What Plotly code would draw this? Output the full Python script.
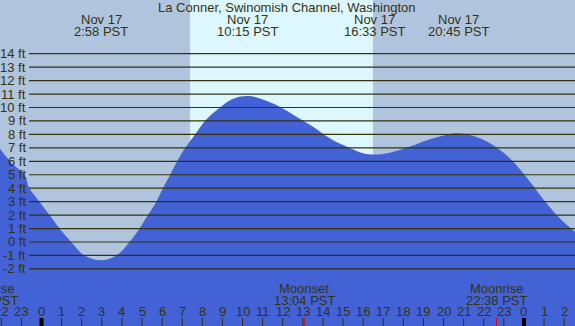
import plotly.graph_objects as go

TITLE = "La Conner, Swinomish Channel, Washington"

# tide curve (hour of Nov 17, feet)
tide_hours = [-2.1, -1.5, -0.85, -0.6, -0.1, 0.4, 0.9, 1.48, 2.14, 2.95, 3.72, 4.38,
              4.88, 5.29, 5.71, 6.04, 6.4, 6.75, 7.15, 7.64, 8.13, 8.88, 9.45, 10.25, 11.0,
              11.85, 12.68, 13.51, 14.34, 15.17, 16.0, 16.55, 17.33, 18.33, 19.32,
              20.32, 20.75, 21.81, 22.81, 23.47, 24.30, 25.13, 25.96, 26.6]
tide_ft = [7.0, 5.9, 5.0, 4.0, 3.0, 2.0, 1.0, 0.0, -1.0, -1.35, -1.0, 0.0,
           1.0, 2.0, 3.0, 4.0, 5.0, 6.0, 7.0, 8.0, 9.0, 10.0, 10.6, 10.85, 10.6,
           10.06, 9.32, 8.57, 7.71, 7.09, 6.59, 6.50, 6.64, 7.09, 7.63,
           8.03, 8.08, 7.71, 6.84, 5.97, 4.48, 2.87, 1.51, 0.7]

# tide extremes (top labels)
event_hours = [2.967, 10.25, 16.55, 20.75]
event_dates = ["Nov 17", "Nov 17", "Nov 17", "Nov 17"]
event_times = ["2:58 PST", "10:15 PST", "16:33 PST", "20:45 PST"]

# moon events (bottom labels)
moon_hours = [13.067, 22.633]
moon_names = ["Moonset", "Moonrise"]
moon_times = ["13:04 PST", "22:38 PST"]

# daylight
sunrise_h = 7.39
sunset_h = 16.49

# axis labels
ft_levels = list(range(-2, 15))
hour_ticks = list(range(-2, 27))

W, H = 575, 326
X0, X1 = -2.065, 26.54
Y0, Y1 = -6.245, 17.99

NIGHT = "#B0C4DE"
DAY = "#DDF7FF"
WATER = "#4262D6"
INK = "#333310"
FONT = dict(family="Liberation Sans, Arial, sans-serif", size=13, color=INK)


def py(p):
    """pixel row -> paper y"""
    return 1 - p / H


def px(p):
    return p / W


fig = go.Figure()
fig.add_trace(go.Scatter(x=[X0 - 1, X1 + 1], y=[Y0 - 1, Y0 - 1], mode="lines",
                         line=dict(width=0), hoverinfo="skip", showlegend=False))
fig.add_trace(go.Scatter(x=tide_hours, y=tide_ft, mode="lines",
                         line=dict(width=0, shape="spline", smoothing=1.1),
                         fill="tonexty", fillcolor=WATER, hoverinfo="skip",
                         showlegend=False))

shapes = []
shapes.append(dict(type="rect", xref="x", yref="paper", x0=sunrise_h, x1=sunset_h,
                   y0=0, y1=1, fillcolor=DAY, line=dict(width=0), layer="below"))
for lv in ft_levels:
    shapes.append(dict(type="line", xref="paper", yref="y", x0=px(29), x1=1,
                       y0=lv, y1=lv, line=dict(color=INK, width=1.2), layer="above"))
for h in hour_ticks:
    mid = (h % 24 == 0)
    shapes.append(dict(type="line", xref="x", yref="paper", x0=h, x1=h,
                       y0=py(326), y1=py(318),
                       line=dict(color="#000000" if mid else INK, width=4 if mid else 1),
                       layer="above"))
for h in moon_hours:
    shapes.append(dict(type="line", xref="x", yref="paper", x0=h, x1=h,
                       y0=py(326), y1=py(318), line=dict(color="#E00000", width=1),
                       layer="above"))

ann = []
ann.append(dict(text=TITLE, xref="paper", yref="paper", x=px(287), y=py(7.5),
                xanchor="center", yanchor="middle", showarrow=False, font=FONT))
for h, d, t in zip(event_hours, event_dates, event_times):
    ann.append(dict(text=d, xref="x", yref="paper", x=h, y=py(19),
                    xanchor="center", yanchor="middle", showarrow=False, font=FONT))
    ann.append(dict(text=t, xref="x", yref="paper", x=h, y=py(32),
                    xanchor="center", yanchor="middle", showarrow=False, font=FONT))
for lv in ft_levels:
    ann.append(dict(text=f"{lv} ft", xref="paper", yref="y", x=px(27.5), y=lv,
                    xanchor="right", yanchor="middle", showarrow=False, font=FONT))
for h in hour_ticks:
    ann.append(dict(text=str(h % 24), xref="x", yref="paper", x=h, y=py(311),
                    xanchor="center", yanchor="middle", showarrow=False, font=FONT))
for h, n, t in zip(moon_hours, moon_names, moon_times):
    ann.append(dict(text=n, xref="x", yref="paper", x=h, y=py(288),
                    xanchor="center", yanchor="middle", showarrow=False, font=FONT))
    ann.append(dict(text=t, xref="x", yref="paper", x=h, y=py(300),
                    xanchor="center", yanchor="middle", showarrow=False, font=FONT))
# previous evening's moonrise, cut off at the left edge
ann.append(dict(text="Moonrise", xref="paper", yref="paper", x=px(15.5), y=py(288),
                xanchor="right", yanchor="middle", showarrow=False, font=FONT))
ann.append(dict(text="21:27 PST", xref="paper", yref="paper", x=px(19.5), y=py(300),
                xanchor="right", yanchor="middle", showarrow=False, font=FONT))

fig.update_layout(
    width=W, height=H, margin=dict(l=0, r=0, t=0, b=0),
    plot_bgcolor=NIGHT, paper_bgcolor=NIGHT,
    xaxis=dict(range=[X0, X1], visible=False, fixedrange=True),
    yaxis=dict(range=[Y0, Y1], visible=False, fixedrange=True),
    shapes=shapes, annotations=ann, showlegend=False,
)
fig.write_html("out.html", config={"displayModeBar": False},
               post_script="document.body.style.margin='0';document.body.style.overflow='hidden';")
